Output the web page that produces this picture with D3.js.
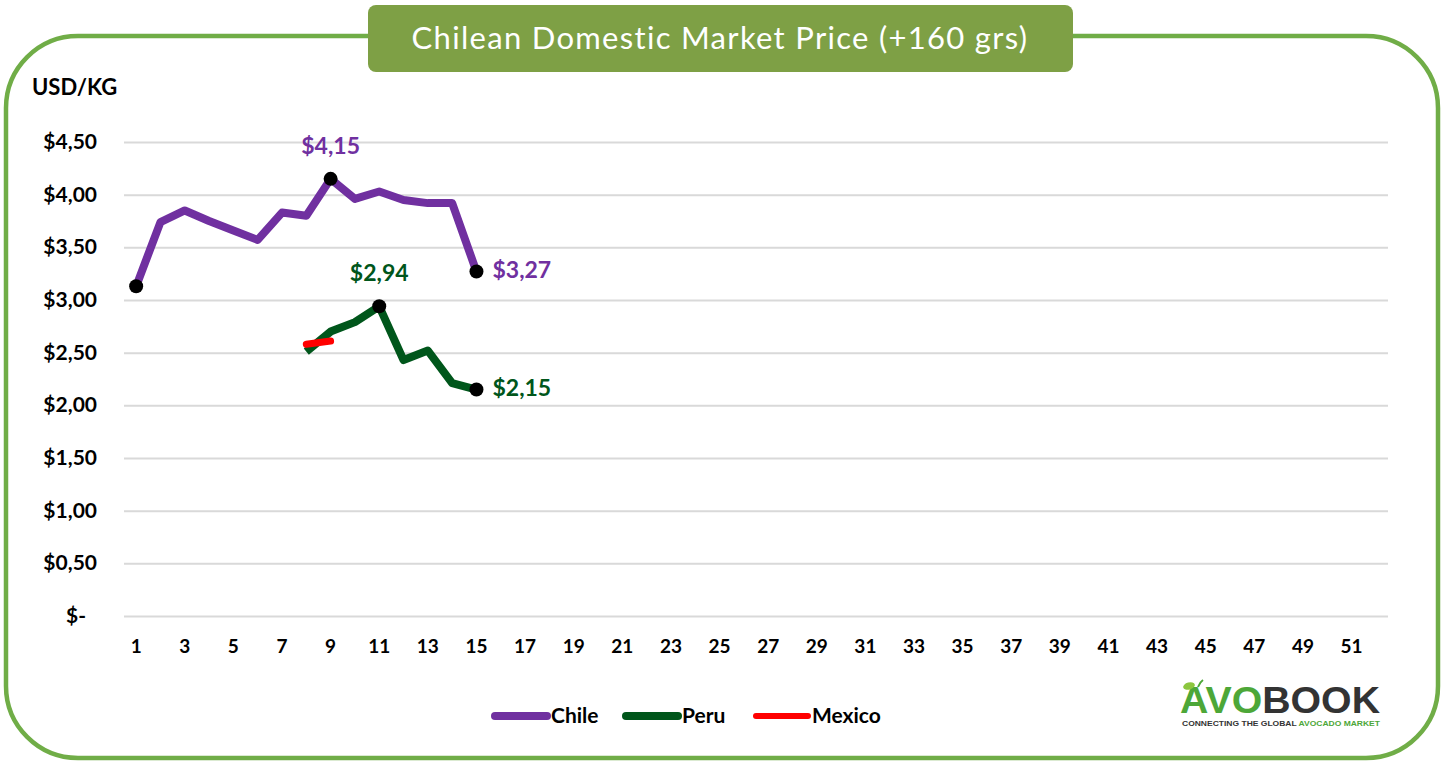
<!DOCTYPE html>
<html>
<head>
<meta charset="utf-8">
<script src="https://cdn.jsdelivr.net/npm/d3@7"></script>
<style>
  body { margin: 0; background: #fff; }
  text { font-family: Lato, "Open Sans", sans-serif; }
</style>
</head>
<body>
<div id="chart"></div>
<script>
// Weeks 1..52
const weeks = d3.range(1, 53);
const yTicks = [0, 0.5, 1, 1.5, 2, 2.5, 3, 3.5, 4, 4.5];

// Series values (USD/KG), indexed by week
const chileWeeks = d3.range(1, 16);
const chileValues = [3.13, 3.74, 3.85, 3.75, 3.66, 3.57, 3.83, 3.80, 4.15, 3.96, 4.03, 3.95, 3.92, 3.92, 3.27];
const peruWeeks = d3.range(8, 16);
const peruValues = [2.51, 2.70, 2.79, 2.94, 2.43, 2.52, 2.21, 2.15];
const mexicoWeeks = [8, 9];
const mexicoValues = [2.58, 2.61];

const series = [
  { name: "Chile", color: "#7030A0", width: 8, weeks: chileWeeks, values: chileValues,
    labels: [{ week: 9, pos: "top" }, { week: 15, pos: "right" }], marks: [1, 9, 15] },
  { name: "Peru", color: "#00561B", width: 8, weeks: peruWeeks, values: peruValues,
    labels: [{ week: 11, pos: "top" }, { week: 15, pos: "right" }], marks: [11, 15] },
  { name: "Mexico", color: "#FF0000", width: 7, weeks: mexicoWeeks, values: mexicoValues,
    labels: [], marks: [] }
];

const W = 1442, H = 762;
const svg = d3.select("#chart").append("svg")
    .attr("width", W)
    .attr("height", H);

// Frame
svg.append("rect")
    .attr("x", 6).attr("y", 36)
    .attr("width", 1432).attr("height", 722)
    .attr("rx", 72).attr("ry", 72)
    .attr("fill", "none")
    .attr("stroke", "#70AD47")
    .attr("stroke-width", 4.5);

// Title box
svg.append("rect")
    .attr("x", 368).attr("y", 5)
    .attr("width", 705).attr("height", 67)
    .attr("rx", 8)
    .attr("fill", "#7EA045");
svg.append("text")
    .attr("x", 720).attr("y", 49)
    .attr("text-anchor", "middle")
    .attr("fill", "#fff")
    .style("font-size", "31px")
    .style("letter-spacing", "1.3px")
    .text("Chilean Domestic Market Price (+160 grs)");

const x = d3.scaleBand().domain(weeks).range([124, 1388]);
const y = d3.scaleLinear().domain([0, 4.5]).range([616, 142]);
const cx = w => x(w) + x.bandwidth() / 2;

// Gridlines
svg.append("g")
    .attr("transform", "translate(124,0)")
    .call(d3.axisLeft(y).tickValues(yTicks).tickSize(-1264).tickFormat(""))
    .call(g => g.select(".domain").remove())
    .call(g => g.selectAll("line").attr("stroke", "#D9D9D9").attr("stroke-width", 2));

// Y labels
const fmt = v => v === 0 ? "$-" : "$" + d3.format(".2f")(v).replace(".", ",");
svg.append("g")
    .selectAll("text")
    .data(yTicks)
    .join("text")
    .attr("x", d => d === 0 ? 86 : 97)
    .attr("y", d => y(d) + 7)
    .attr("text-anchor", "end")
    .style("font-size", "21px")
    .style("font-weight", "bold")
    .text(fmt);

svg.append("text")
    .attr("x", 32).attr("y", 95)
    .style("font-size", "22px")
    .style("font-weight", "bold")
    .text("USD/KG");

// X labels
svg.append("g")
    .attr("transform", "translate(0,636)")
    .call(d3.axisBottom(x).tickValues(weeks.filter(w => w % 2 === 1)).tickSize(0))
    .call(g => g.select(".domain").remove())
    .call(g => g.selectAll("text")
        .attr("fill", "#000")
        .style("font-family", "Lato, sans-serif")
        .style("font-size", "19px")
        .style("font-weight", "bold"));

// Lines
const line = d3.line().x(d => cx(d.w)).y(d => y(d.v)).curve(d3.curveLinear);
series.forEach(s => {
  const pts = s.weeks.map((w, i) => ({ w, v: s.values[i] }));
  svg.append("path")
      .datum(pts)
      .attr("d", line)
      .attr("fill", "none")
      .attr("stroke", s.color)
      .attr("stroke-width", s.width)
      .attr("stroke-linejoin", "round")
      .attr("stroke-linecap", s.name === "Mexico" ? "round" : "butt");
});

// Markers and labels
series.forEach(s => {
  const val = w => s.values[s.weeks.indexOf(w)];
  svg.append("g").selectAll("circle")
      .data(s.marks)
      .join("circle")
      .attr("cx", d => cx(d))
      .attr("cy", d => y(val(d)))
      .attr("r", 7)
      .attr("fill", "#000");
  svg.append("g").selectAll("text")
      .data(s.labels)
      .join("text")
      .attr("x", d => d.pos === "top" ? cx(d.week) : cx(d.week) + 16)
      .attr("y", d => d.pos === "top" ? y(val(d.week)) - 25 : y(val(d.week)) + 6)
      .attr("text-anchor", d => d.pos === "top" ? "middle" : "start")
      .attr("fill", s.color)
      .style("font-size", "23px")
      .style("font-weight", "bold")
      .text(d => "$" + d3.format(".2f")(val(d.week)).replace(".", ","));
});

// Legend
const legendX = [492, 623, 753];
const legend = svg.append("g").selectAll("g")
    .data(series)
    .join("g")
    .attr("transform", (d, i) => `translate(${legendX[i]},716)`);
legend.append("line")
    .attr("x1", 3).attr("x2", 55)
    .attr("stroke", d => d.color)
    .attr("stroke-width", d => d.name === "Mexico" ? 6 : 8)
    .attr("stroke-linecap", "round");
legend.append("text")
    .attr("x", 59).attr("y", 7)
    .style("font-size", "21px")
    .style("font-weight", "bold")
    .text(d => d.name);

// Logo
const logo = svg.append("g").attr("transform", "translate(1180,713)");
const logoText = logo.append("text")
    .attr("x", 0).attr("y", 0)
    .style("font-family", "'Liberation Sans', Arial, sans-serif")
    .style("font-size", "36px")
    .style("font-weight", "bold")
    .attr("textLength", 200)
    .attr("lengthAdjust", "spacingAndGlyphs");
logoText.append("tspan").attr("fill", "#4DA738").text("AVO");
logoText.append("tspan").attr("fill", "#333333").text("BOOK");
logo.append("ellipse")
    .attr("cx", 9).attr("cy", -27).attr("rx", 6).attr("ry", 3.5)
    .attr("transform", "rotate(-15,9,-27)")
    .attr("fill", "#8CC63F");
logo.append("path")
    .attr("d", "M18,-26 Q20,-31 23,-33")
    .attr("stroke", "#4DA738").attr("stroke-width", 2).attr("fill", "none");
const sub = logo.append("text")
    .attr("x", 2).attr("y", 13)
    .style("font-family", "'Liberation Sans', Arial, sans-serif")
    .style("font-size", "8px")
    .style("font-weight", "bold")
    .attr("textLength", 198)
    .attr("lengthAdjust", "spacingAndGlyphs");
sub.append("tspan").attr("fill", "#333").text("CONNECTING THE GLOBAL ");
sub.append("tspan").attr("fill", "#4DA738").text("AVOCADO MARKET");
</script>
</body>
</html>
